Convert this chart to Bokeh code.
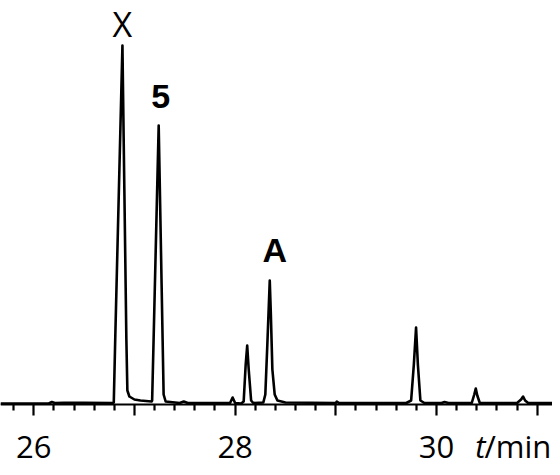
from bokeh.plotting import figure
from bokeh.models import Range1d, LinearAxis, FixedTicker
from bokeh.core.properties import value
from bokeh.embed import file_html
from bokeh.resources import INLINE

# chromatogram trace: retention time (min) and detector signal (a.u.)
time = [25.67, 26.15, 26.18, 26.21, 26.30, 26.50, 26.78,
        26.795, 26.81, 26.83, 26.85, 26.87, 26.881, 26.89, 26.90, 26.91, 26.92, 26.93, 26.95, 27.00, 27.06, 27.17,
        27.176, 27.19, 27.21, 27.23, 27.241, 27.25, 27.27, 27.28, 27.29, 27.31,
        27.45, 27.49, 27.53, 27.70, 27.95, 27.975, 28.00, 28.06,
        28.085, 28.105, 28.12, 28.135, 28.159, 28.18, 28.28,
        28.30, 28.32, 28.344, 28.355, 28.37, 28.393, 28.42, 28.50,
        29.00, 29.01, 29.03, 29.70, 29.748, 29.775, 29.797, 29.815, 29.84, 29.88,
        30.05, 30.08, 30.12, 30.35, 30.375, 30.39, 30.405, 30.43,
        30.80, 30.84, 30.86, 30.88, 30.91, 31.16]
signal = [1.0, 1.0, 2.5, 1.5, 1.8, 1.8, 1.5,
          2.0, 68, 150, 232, 314, 359, 290, 215, 140, 65, 14, 8, 5, 4, 3,
          4, 63, 148, 233, 279, 230, 120, 65, 10, 3,
          1.5, 3, 1.5, 1.5, 1.5, 7, 1.5, 1.0,
          3, 40, 59, 35, 4, 1.5, 2,
          10, 60, 124, 90, 35, 10, 4, 2,
          1.5, 3, 1.5, 1.5, 4, 40, 77, 40, 4, 1.5,
          1.5, 2.5, 1.5, 1.5, 10, 16, 9, 1.5,
          1.5, 5, 8, 4, 1.5, 1.5]

# labelled peaks
peak_names = ["X", "5", "A"]
peak_times = [26.881, 27.241, 28.344]
peak_heights = [359, 279, 124]

# axis ticks
major_ticks = [26, 27, 28, 29, 30, 31]
tick_labels = {26: "26", 27: "", 28: "28", 29: "", 30: "30", 31: ""}
minor_ticks = [25.8, 26.2, 26.4, 26.6, 26.8, 27.2, 27.4, 27.6, 27.8,
               28.2, 28.4, 28.6, 28.8, 29.2, 29.4, 29.6, 29.8,
               30.2, 30.4, 30.6, 30.8]
unit_symbol = "t"
unit_rest = "/min"
unit_time = [30.384, 30.476]
unit_level = -41

p = figure(width=552, height=467, output_backend="svg", toolbar_location=None,
           x_range=Range1d(25.67, 31.152), y_range=Range1d(-63, 404),
           x_axis_type=None, y_axis_type=None,
           min_border_left=0, min_border_right=0, min_border_top=0, min_border_bottom=0)
p.outline_line_color = None
p.background_fill_color = "white"
p.border_fill_color = "white"

axis = LinearAxis(ticker=FixedTicker(ticks=major_ticks, minor_ticks=minor_ticks), fixed_location=0)
axis.major_label_overrides = tick_labels
axis.axis_line_width = 2.2
axis.axis_line_color = "black"
axis.major_tick_line_width = 2.2
axis.minor_tick_line_width = 2.2
axis.major_tick_out = 11
axis.major_tick_in = 0
axis.minor_tick_out = 6
axis.minor_tick_in = 0
axis.major_label_standoff = 20
axis.major_label_text_font = "Open Sans"
axis.major_label_text_font_size = "31px"
axis.major_label_text_color = "black"
p.add_layout(axis, "below")

p.line(time, signal, line_color="black", line_width=2.6, line_join="round")

# peak labels
p.text(x=[peak_times[0]], y=[peak_heights[0]], text=[peak_names[0]], y_offset=-21.5,
       text_align="center", text_baseline="alphabetic",
       text_font=value("Open Sans"), text_font_size="34px", text_color="black")
p.text(x=[peak_times[1]], y=[peak_heights[1]], text=[peak_names[1]], x_offset=2, y_offset=-29,
       text_align="center", text_baseline="alphabetic",
       text_font=value("Liberation Sans"), text_font_style="bold", text_font_size="34px", text_color="black")
p.text(x=[peak_times[2]], y=[peak_heights[2]], text=[peak_names[2]], x_offset=5, y_offset=-31,
       text_align="center", text_baseline="alphabetic",
       text_font=value("Liberation Sans"), text_font_style="bold", text_font_size="34px", text_color="black")

# axis unit
p.text(x=[unit_time[0]], y=[unit_level], text=[unit_symbol], text_align="left", text_baseline="alphabetic",
       text_font=value("Open Sans"), text_font_style="italic", text_font_size="31px", text_color="black")
p.text(x=[unit_time[1]], y=[unit_level], text=[unit_rest], text_align="left", text_baseline="alphabetic",
       text_font=value("Open Sans"), text_font_size="31px", text_color="black")

open("out.html", "w").write(file_html(p, INLINE))
